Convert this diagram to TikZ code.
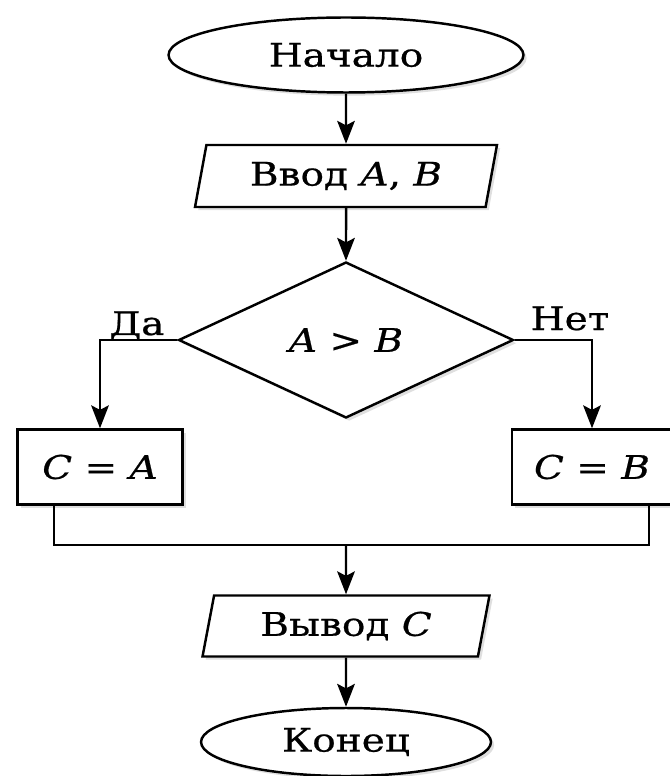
\documentclass[tikz,border=0pt]{standalone}
\usepackage{fontspec}
\setmainfont[FakeStretch=1.2,FakeBold=0.6]{DejaVu Serif}
\usetikzlibrary{arrows.meta,positioning,shapes.geometric,shadows}
\newcommand{\mv}[1]{\textit{#1}}

\begin{document}
\begin{tikzpicture}[
      x=0.02cm,y=-0.02cm,
      base/.style={draw=black,fill=white,line width=1.4pt,inner sep=0pt,
                   font=\fontsize{18.5}{22}\selectfont,
                   drop shadow={shadow xshift=1.8pt,shadow yshift=-1.8pt,opacity=0.25}},
      tNode/.style={base,ellipse,minimum width=7.1cm,minimum height=1.5cm},
      ioNode/.style={base,trapezium,trapezium left angle=68,trapezium right angle=112,
                     trapezium stretches body,minimum width=6.04cm,minimum height=1.24cm},
      dNode/.style={base,diamond,minimum width=6.7cm,minimum height=3.12cm},
      pNode/.style={base,rectangle,minimum width=3.3cm,minimum height=1.5cm},
      lbl/.style={font=\fontsize{18.5}{22}\selectfont,inner sep=0pt,anchor=base},
      ar/.style={-{Stealth[length=13pt,width=10pt,inset=2.5pt]},line width=1.4pt},
      ln/.style={line width=1.4pt}
    ]
    \useasboundingbox (0,0) rectangle (669,776);

    % Main column
    \node(start)[tNode] at (346,55) {Начало};
    \node(input)[ioNode] at (346,176) {Ввод \mv{A}, \mv{B}};
    \node(cond)[dNode] at (346,340) {\mv{A} > \mv{B}};

    % Branches
    \node(cA)[pNode] at (100,467) {\mv{C} = \mv{A}};
    \node(cB)[pNode,minimum width=3.2cm] at (592,467) {\mv{C} = \mv{B}};
    \node(yes)[lbl] at (137,335) {Да};
    \node(no)[lbl] at (570,330) {Нет};

    % Output and end
    \node(out)[ioNode,minimum width=5.74cm,minimum height=1.22cm] at (346,626) {Вывод \mv{C}};
    \node(stop)[tNode,minimum width=5.8cm,minimum height=1.36cm] at (346,742) {Конец};

    \coordinate(jL) at (54,545);
    \coordinate(jR) at (649,545);
    \coordinate(jM) at (346,545);

    \draw[ar] (start) -- (input);
    \draw[ar] (input) -- (cond);
    \draw[ar] (cond.west) -| (cA.north);
    \draw[ar] (cond.east) -| (cB.north);

    % Merge line
    \draw[ln] (cA.south -| jL) -- (jL) -- (jR) -- (cB.south -| jR);
    \draw[ar] (jM) -- (out);
    \draw[ar] (out) -- (stop);
  \end{tikzpicture}
\end{document}
